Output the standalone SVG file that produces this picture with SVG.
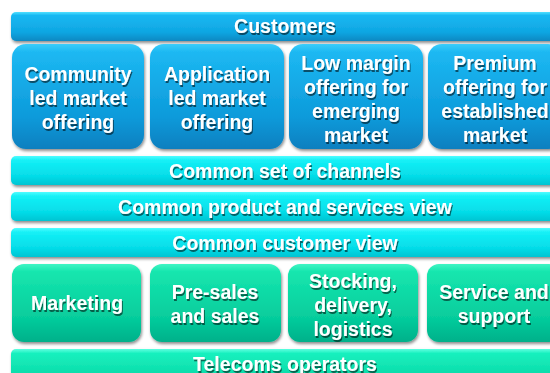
<svg xmlns="http://www.w3.org/2000/svg" width="550" height="373" viewBox="0 0 550 373">
<defs>
<linearGradient id="gBlueBar" x1="0" y1="0" x2="0" y2="1">
<stop offset="0" stop-color="#4fe0ff"/><stop offset="0.12" stop-color="#19b8f2"/><stop offset="0.7" stop-color="#0fa6e2"/><stop offset="1" stop-color="#0a88c2"/>
</linearGradient>
<linearGradient id="gBlueBox" x1="0" y1="0" x2="0" y2="1">
<stop offset="0" stop-color="#3ccdfa"/><stop offset="0.08" stop-color="#1cb8f2"/><stop offset="0.7" stop-color="#0d9ada"/><stop offset="1" stop-color="#0a7fbf"/>
</linearGradient>
<linearGradient id="gCyan" x1="0" y1="0" x2="0" y2="1">
<stop offset="0" stop-color="#4ffcff"/><stop offset="0.15" stop-color="#14f0f6"/><stop offset="0.7" stop-color="#05dce8"/><stop offset="1" stop-color="#02c4d2"/>
</linearGradient>
<linearGradient id="gGreen" x1="0" y1="0" x2="0" y2="1">
<stop offset="0" stop-color="#3ff5c4"/><stop offset="0.1" stop-color="#16e6ae"/><stop offset="0.7" stop-color="#06cc9c"/><stop offset="1" stop-color="#02b08a"/>
</linearGradient>
<linearGradient id="gGreenBar" x1="0" y1="0" x2="0" y2="1">
<stop offset="0" stop-color="#5dffe0"/><stop offset="0.15" stop-color="#18f0be"/><stop offset="1" stop-color="#0ad8a6"/>
</linearGradient>
<filter id="sh" x="-5%" y="-10%" width="110%" height="125%">
<feGaussianBlur in="SourceAlpha" stdDeviation="1.5"/>
<feOffset dx="0.5" dy="1.5" result="b"/>
<feComponentTransfer><feFuncA type="linear" slope="0.45"/></feComponentTransfer>
<feMerge><feMergeNode/><feMergeNode in="SourceGraphic"/></feMerge>
</filter>
<filter id="tsh" x="-10%" y="-20%" width="120%" height="150%">
<feGaussianBlur in="SourceAlpha" stdDeviation="0.7"/>
<feOffset dx="1" dy="1.5"/>
<feComponentTransfer><feFuncA type="linear" slope="0.55"/></feComponentTransfer>
<feMerge><feMergeNode/><feMergeNode in="SourceGraphic"/></feMerge>
</filter>
</defs>
<style>
text{font-family:"Liberation Sans",Arial,sans-serif;font-weight:bold;font-size:19.5px;fill:#ffffff;text-anchor:middle;filter:url(#tsh)}
.shape{filter:url(#sh)}
</style>
<rect width="550" height="373" fill="#ffffff"/>
<g id="customers"><rect class="shape" x="11" y="12" width="550" height="29" rx="5" fill="url(#gBlueBar)"/><text x="285" y="33">Customers</text></g>
<g id="community"><rect class="shape" x="12" y="44" width="132" height="105" rx="14" fill="url(#gBlueBox)"/><text x="78" y="81">Community</text><text x="78" y="105">led market</text><text x="78" y="129">offering</text></g>
<g id="application"><rect class="shape" x="150" y="44" width="134" height="105" rx="14" fill="url(#gBlueBox)"/><text x="217" y="81">Application</text><text x="217" y="105">led market</text><text x="217" y="129">offering</text></g>
<g id="lowmargin"><rect class="shape" x="289" y="44" width="134" height="105" rx="14" fill="url(#gBlueBox)"/><text x="356" y="70">Low margin</text><text x="356" y="94">offering for</text><text x="356" y="118">emerging</text><text x="356" y="142">market</text></g>
<g id="premium"><rect class="shape" x="428" y="44" width="134" height="105" rx="14" fill="url(#gBlueBox)"/><text x="495" y="70">Premium</text><text x="495" y="94">offering for</text><text x="495" y="118">established</text><text x="495" y="142">market</text></g>
<g id="channels"><rect class="shape" x="11" y="156" width="550" height="29" rx="5" fill="url(#gCyan)"/><text x="285" y="178">Common set of channels</text></g>
<g id="product"><rect class="shape" x="11" y="192" width="550" height="29" rx="5" fill="url(#gCyan)"/><text x="285" y="214">Common product and services view</text></g>
<g id="customerview"><rect class="shape" x="11" y="228" width="550" height="29" rx="5" fill="url(#gCyan)"/><text x="285" y="250">Common customer view</text></g>
<g id="marketing"><rect class="shape" x="12" y="264" width="129" height="78" rx="12" fill="url(#gGreen)"/><text x="77" y="310">Marketing</text></g>
<g id="presales"><rect class="shape" x="150" y="264" width="131" height="78" rx="12" fill="url(#gGreen)"/><text x="215" y="299">Pre-sales</text><text x="215" y="323">and sales</text></g>
<g id="stocking"><rect class="shape" x="288" y="264" width="130" height="78" rx="12" fill="url(#gGreen)"/><text x="353" y="288">Stocking,</text><text x="353" y="312">delivery,</text><text x="353" y="336">logistics</text></g>
<g id="service"><rect class="shape" x="427" y="264" width="134" height="78" rx="12" fill="url(#gGreen)"/><text x="494" y="299">Service and</text><text x="494" y="323">support</text></g>
<g id="telecoms"><rect class="shape" x="11" y="349" width="550" height="30" rx="5" fill="url(#gGreenBar)"/><text x="285" y="371">Telecoms operators</text></g>
<g id="connectors"/>
</svg>
